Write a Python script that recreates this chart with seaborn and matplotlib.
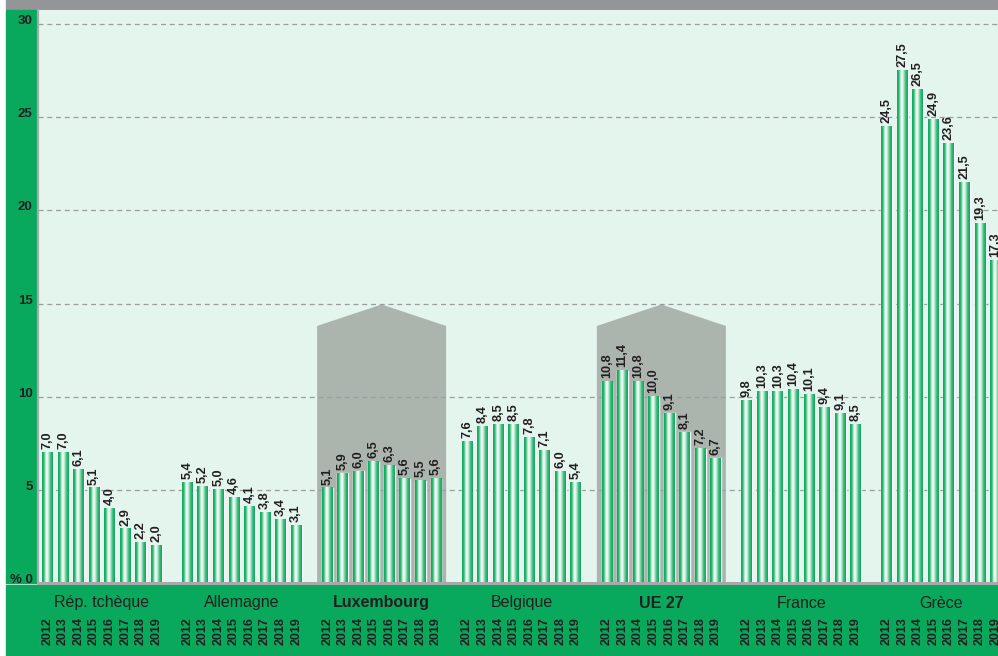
import numpy as np
import pandas as pd
import matplotlib
matplotlib.use("Agg")
import matplotlib.pyplot as plt
from matplotlib.patches import Rectangle, Polygon
from matplotlib.colors import LinearSegmentedColormap
import matplotlib.transforms as mtransforms
import seaborn as sns

# ---- data -------------------------------------------------------------
countries = ["Rép. tchèque", "Allemagne", "Luxembourg", "Belgique", "UE 27", "France", "Grèce"]
years = ["2012", "2013", "2014", "2015", "2016", "2017", "2018", "2019"]
rep_tcheque = [7.0, 7.0, 6.1, 5.1, 4.0, 2.9, 2.2, 2.0]
allemagne = [5.4, 5.2, 5.0, 4.6, 4.1, 3.8, 3.4, 3.1]
luxembourg = [5.1, 5.9, 6.0, 6.5, 6.3, 5.6, 5.5, 5.6]
belgique = [7.6, 8.4, 8.5, 8.5, 7.8, 7.1, 6.0, 5.4]
ue27 = [10.8, 11.4, 10.8, 10.0, 9.1, 8.1, 7.2, 6.7]
france = [9.8, 10.3, 10.3, 10.4, 10.1, 9.4, 9.1, 8.5]
grece = [24.5, 27.5, 26.5, 24.9, 23.6, 21.5, 19.3, 17.3]
highlighted = ["Luxembourg", "UE 27"]
y_ticks = [0, 5, 10, 15, 20, 25, 30]
y_tick_labels = ["% 0", "5", "10", "15", "20", "25", "30"]

series = [rep_tcheque, allemagne, luxembourg, belgique, ue27, france, grece]
SLOTS = 9  # 8 bars + one empty slot between countries
rows = []
for gi, (c, vals) in enumerate(zip(countries, series)):
    for yi, (yr, v) in enumerate(zip(years, vals)):
        rows.append({"country": c, "year": yr, "pos": gi * SLOTS + yi, "value": v})
df = pd.DataFrame(rows)

# ---- style ------------------------------------------------------------
GREEN = "#08a95c"
BG = "#e4f5ee"
BAND_GRAY = "#939598"
HILITE = "#abb5ae"
TXT = "#231f20"
AXLINE = "#a7a9ab"

sns.set_theme(style="white")
plt.rcParams["font.family"] = ["Liberation Sans", "DejaVu Sans"]

W, H = 998, 656
fig = plt.figure(figsize=(W / 100, H / 100), dpi=100)
fig.patch.set_facecolor("white")
ax_left, ax_bottom, ax_top = 38, 583, 10
ax = fig.add_axes([ax_left / W, (H - ax_bottom) / H, (W - ax_left) / W, (ax_bottom - ax_top) / H])
ax.set_zorder(2)
ax.set_facecolor(BG)

# frame decorations
fig.patches.append(Rectangle((6 / W, (H - 9) / H), (W - 6) / W, 9 / H,
                             transform=fig.transFigure, color=BAND_GRAY, zorder=-1))
fig.patches.append(Rectangle((6 / W, (H - ax_bottom) / H), (ax_left - 7) / W, (ax_bottom - ax_top) / H,
                             transform=fig.transFigure, color=GREEN, zorder=-1))
fig.patches.append(Rectangle((6 / W, 0), (W - 6) / W, (H - 585) / H,
                             transform=fig.transFigure, color=GREEN, zorder=-1))

# bars
sns.barplot(data=df, x="pos", y="value", native_scale=True, width=0.7,
            color=GREEN, saturation=1, ax=ax, zorder=3, errorbar=None)

# cylindrical shading on every bar
shade = LinearSegmentedColormap.from_list(
    "shade", [(0.0, GREEN), (0.15, "#22b36b"), (0.38, "#f6fcf8"), (0.52, "#eef8f2"),
              (0.8, "#36bb78"), (1.0, GREEN)])
grad = np.linspace(0, 1, 64).reshape(1, -1)
for p in ax.patches:
    x0, w, h = p.get_x(), p.get_width(), p.get_height()
    ax.imshow(grad, cmap=shade, extent=[x0, x0 + w, 0, h], aspect="auto",
              zorder=3.5, interpolation="bicubic")
ax.set_xlim(-0.61, 61.16)
ax.set_ylim(0, 30.76)

# highlighted country backdrops
for gi, c in enumerate(countries):
    if c in highlighted:
        cx = gi * SLOTS + 3.5
        hw = 4.15
        poly = Polygon([(cx - hw, 0), (cx - hw, 13.8), (cx, 14.95), (cx + hw, 13.8), (cx + hw, 0)],
                       closed=True, facecolor=HILITE, edgecolor="none", zorder=0.5)
        ax.add_patch(poly)

# grid
for yv in y_ticks[1:]:
    ax.axhline(yv, color="#9a9c9e", lw=0.9, ls=(0, (4, 3)), zorder=1)

# value labels
for _, r in df.iterrows():
    ax.annotate(f"{r['value']:.1f}".replace(".", ","), (r["pos"], r["value"]),
                xytext=(0, 2.5), textcoords="offset points", rotation=90,
                ha="center", va="bottom", fontsize=9.2, fontweight="bold",
                color=TXT, zorder=5, annotation_clip=False)

# axes
ax.set_xlabel("")
ax.set_ylabel("")
ax.set_xticks([])
ax.set_yticks(y_ticks)
ax.set_yticklabels(y_tick_labels, fontsize=9.5, fontweight="bold", color=TXT)
for lab in ax.get_yticklabels():
    lab.set_verticalalignment("baseline")
ax.tick_params(axis="y", length=0, pad=4)
for s in ["top", "right"]:
    ax.spines[s].set_visible(False)
ax.spines["left"].set_color(AXLINE)
ax.spines["left"].set_linewidth(1.6)
ax.spines["bottom"].set_color(AXLINE)
ax.spines["bottom"].set_linewidth(2.2)
ax.spines["left"].set_zorder(6)
ax.spines["bottom"].set_zorder(6)

# category and year labels below the axis
trans = mtransforms.blended_transform_factory(ax.transData, ax.transAxes)
axh = ax_bottom - ax_top
for gi, c in enumerate(countries):
    cx = gi * SLOTS + 3.5
    ax.text(cx, -20 / axh, c, transform=trans, ha="center", va="center",
            fontsize=11.5, color=TXT,
            fontweight="bold" if c in highlighted else "normal", clip_on=False)
    for yi, yr in enumerate(years):
        ax.text(gi * SLOTS + yi, -34 / axh, yr, transform=trans, rotation=90,
                ha="center", va="top", fontsize=9, fontweight="bold",
                color=TXT, clip_on=False)

fig.savefig("out.png", dpi=100, facecolor=fig.get_facecolor())
